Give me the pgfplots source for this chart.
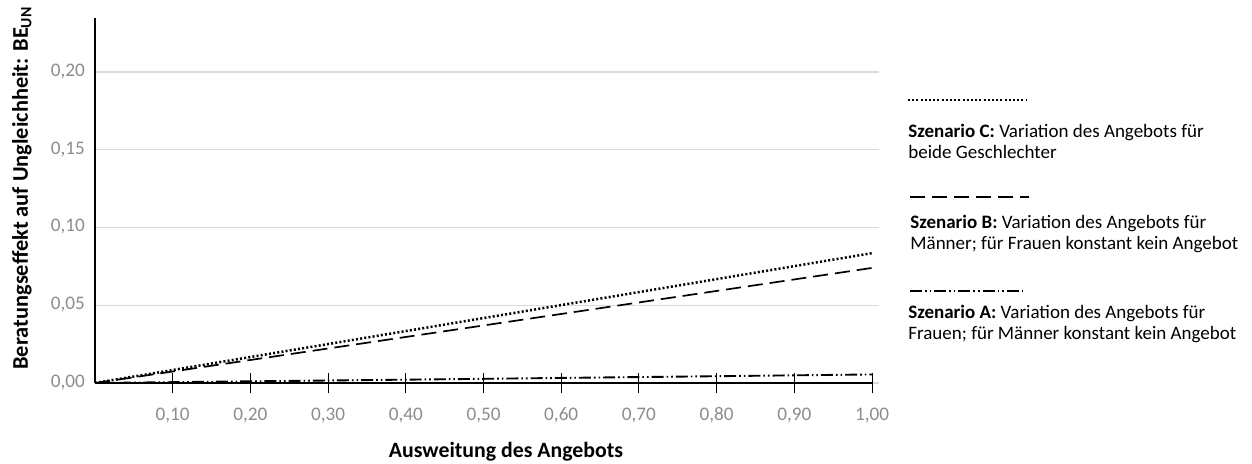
\documentclass[border=0pt]{standalone}
\usepackage{pgfplots}
\pgfplotsset{compat=1.18}
\usepackage{fontspec}
\setmainfont{Carlito}
\definecolor{ticklab}{HTML}{8C8C8C}
\definecolor{gridc}{HTML}{D9D9D9}
\begin{document}
\begin{tikzpicture}[x=1pt,y=1pt]
\useasboundingbox (0,0) rectangle (626,231.5);
\begin{axis}[
  at={(47.5pt,40pt)}, anchor=south west,
  scale only axis, width=392pt, height=182.5pt,
  xmin=0, xmax=1.009, ymin=0, ymax=0.2347,
  axis x line=bottom, axis y line=left,
  axis line style={-},
  x axis line style={draw=none},
  y axis line style={line width=1.3pt, black},
  xtick={0.1,0.2,0.3,0.4,0.5,0.6,0.7,0.8,0.9,1.0},
  ytick={0,0.05,0.1,0.15,0.2},
  ytick style={draw=none},
  xtick style={black, line width=0.5pt},
  major tick length=10pt, tick align=center,
  ymajorgrids, grid style={gridc, line width=0.6pt},
  typeset ticklabels with strut,
  tick label style={font=\fontsize{9.6}{11}\selectfont, text=ticklab},
  xticklabel style={yshift=-2.5pt},
  yticklabel style={xshift=3.5pt},
  /pgf/number format/.cd, fixed, fixed zerofill, precision=2, use comma, assume math mode=true,
]
\addplot[black, line width=1.3pt] coordinates {(0,0) (1,0)};
\addplot[black, line width=1.25pt, dash pattern=on 1pt off 1.1pt] coordinates {(0,0) (0.5,0.04175) (1,0.0835)};
\addplot[black, line width=0.85pt, dash pattern=on 7.5pt off 3.5pt] coordinates {(0,0) (0.5,0.037) (1,0.074)};
\addplot[black, line width=0.95pt, dash pattern=on 6pt off 1.5pt on 0.8pt off 1.5pt on 0.8pt off 1.5pt] coordinates {(0,0) (0.5,0.0027) (1,0.0055)};
\end{axis}
% axis labels
\node[rotate=90, font=\fontsize{11.2}{12}\selectfont\bfseries] at (11,137.5) {Beratungseffekt auf Ungleichheit: BE\textsubscript{UN}};
\node[font=\fontsize{10.9}{12}\selectfont\bfseries] at (253,5.5) {Ausweitung des Angebots};
% legend
\draw[black, line width=1.25pt, dash pattern=on 1pt off 1.1pt] (454,181.5) -- (513.5,181.5);
\node[anchor=base west, inner sep=0, font=\fontsize{9.5}{11}\selectfont] at (454,163) {\textbf{Szenario C:} Variation des Angebots für};
\node[anchor=base west, inner sep=0, font=\fontsize{9.5}{11}\selectfont] at (454,152.5) {beide Geschlechter};
\draw[black, line width=0.85pt, dash pattern=on 7.5pt off 3.5pt] (455,133) -- (514.5,133);
\node[anchor=base west, inner sep=0, font=\fontsize{9.5}{11}\selectfont] at (455,117.5) {\textbf{Szenario B:} Variation des Angebots für};
\node[anchor=base west, inner sep=0, font=\fontsize{9.5}{11}\selectfont] at (455,107) {Männer; für Frauen konstant kein Angebot};
\draw[black, line width=0.95pt, dash pattern=on 6pt off 1.5pt on 0.8pt off 1.5pt on 0.8pt off 1.5pt] (455,86) -- (513,86);
\node[anchor=base west, inner sep=0, font=\fontsize{9.5}{11}\selectfont] at (454,72.5) {\textbf{Szenario A:} Variation des Angebots für};
\node[anchor=base west, inner sep=0, font=\fontsize{9.5}{11}\selectfont] at (454,62) {Frauen; für Männer konstant kein Angebot};
\end{tikzpicture}
\end{document}
